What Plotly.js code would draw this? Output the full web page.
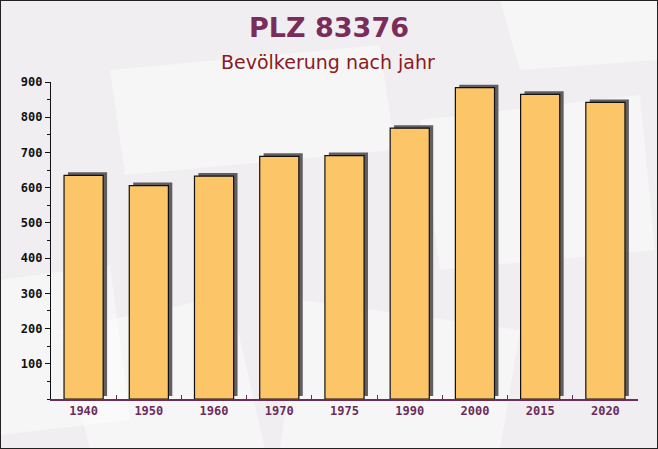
<!DOCTYPE html>
<html>
<head>
<meta charset="utf-8">
<script src="https://cdn.plot.ly/plotly-3.0.1.min.js"></script>
<style>
html,body{margin:0;padding:0;background:#f0eef0;}
#wrap{position:relative;width:658px;height:449px;}
#chart{width:658px;height:449px;}
#frame{position:absolute;left:0;top:0;width:658px;height:449px;box-sizing:border-box;border:1px solid #222;pointer-events:none;z-index:10;}
</style>
</head>
<body>
<div id="wrap"><div id="chart"></div><div id="frame"></div></div>
<script>
const years = ["1940","1950","1960","1970","1975","1990","2000","2015","2020"];
const population = [635, 606, 633, 689, 691, 769, 884, 865, 842];
const yTicks = [100,200,300,400,500,600,700,800,900];

// faint decorative background shapes (pixel coords -> paper coords)
function px(x){ return (x - 51) / 587; }
function py(y){ return (399 - y) / 317; }
function poly(pts){
  return 'M' + pts.map(p => px(p[0]).toFixed(4) + ',' + py(p[1]).toFixed(4)).join(' L') + ' Z';
}
const deco = [
  [[110,70],[380,45],[395,150],[125,175]],
  [[60,330],[230,295],[265,449],[90,449]],
  [[0,280],[110,265],[130,420],[0,435]],
  [[420,120],[640,95],[655,250],[440,270]],
  [[300,300],[520,330],[500,449],[280,449]],
  [[500,0],[658,0],[658,60],[520,70]]
].map(p => ({type: 'path', xref: 'paper', yref: 'paper', path: poly(p),
             fillcolor: 'rgba(255,255,255,0.45)', line: {width: 0}, layer: 'below'}));

const shadow = {
  type: 'bar', x: years, y: population, yaxis: 'y',
  offset: -0.24, width: 0.6,
  marker: {color: 'rgba(72,68,72,0.85)', line: {width: 0}},
  hoverinfo: 'skip', showlegend: false
};
const bars = {
  type: 'bar', x: years, y: population, yaxis: 'y2',
  offset: -0.3, width: 0.6,
  marker: {color: '#fcc668', line: {color: '#111', width: 1.2}},
  showlegend: false
};

const layout = {
  width: 658, height: 449,
  margin: {l: 51, r: 20, t: 82, b: 50},
  paper_bgcolor: '#f0eef0',
  plot_bgcolor: 'rgba(0,0,0,0)',
  barmode: 'overlay',
  shapes: deco,
  title: {text: 'PLZ 83376', x: 0.5, xanchor: 'center', y: 1 - 28/449, yanchor: 'middle',
          font: {family: 'DejaVu Sans', size: 27, color: '#7a2c5b', weight: 'bold'}},
  annotations: [{text: 'Bevölkerung nach jahr', xref: 'paper', yref: 'paper', x: 0.472, y: (399-62)/317,
                 xanchor: 'center', yanchor: 'middle', showarrow: false,
                 font: {family: 'DejaVu Sans', size: 19, color: '#8b1a1e'}}],
  xaxis: {type: 'category', showgrid: false, zeroline: false,
          showline: true, linecolor: '#6b2d5b', linewidth: 1.5,
          ticks: 'inside', ticklen: 4, tickcolor: '#6b2d5b', tickson: 'boundaries',
          tickfont: {family: 'DejaVu Sans Mono', size: 12, color: '#6b2d5b', weight: 'bold'},
          range: [-0.5, 8.5]},
  yaxis: {range: [-8.5, 891.5], visible: false, showgrid: false, zeroline: false},
  yaxis2: {range: [0, 900], overlaying: 'y', side: 'left', showgrid: false, zeroline: false,
          showline: true, linecolor: '#111', linewidth: 1.2,
          tickvals: yTicks, ticks: 'outside', ticklen: 5, tickcolor: '#111',
          minor: {dtick: 50, ticks: 'outside', ticklen: 3, tickcolor: '#111'},
          tickfont: {family: 'DejaVu Sans Mono', size: 12, color: '#111', weight: 'bold'}}
};

Plotly.newPlot('chart', [shadow, bars], layout, {displayModeBar: false, staticPlot: true});
</script>
</body>
</html>
